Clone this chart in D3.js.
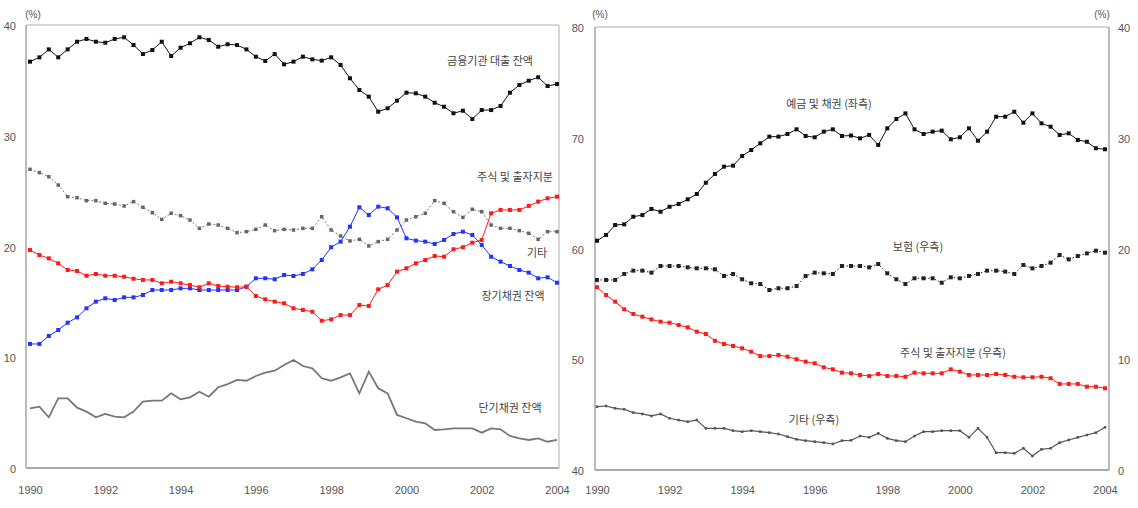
<!DOCTYPE html>
<html><head><meta charset="utf-8">
<script src="https://cdn.jsdelivr.net/npm/d3@7"></script>
<style>
body{margin:0;background:#fff;}
svg{display:block;font-family:"Liberation Sans Narrow","Liberation Sans",Arial,sans-serif;}
.lab{font-family:"Noto Sans CJK KR",sans-serif;font-size:11px;fill:#444;}
.tick{font-size:11px;fill:#555;}
</style></head>
<body>
<svg id="c" width="1138" height="508"></svg>
<script>
// quarterly points 1990Q1 .. 2004Q1 (57 points)
const xTicks = [1990,1992,1994,1996,1998,2000,2002,2004];
const leftTicks = [0,10,20,30,40];
const rightLTicks = [40,50,60,70,80];
const rightRTicks = [0,10,20,30,40];

// Left panel series
const loans = [36.69,37.08,37.8,37.08,37.8,38.49,38.74,38.49,38.4,38.74,38.89,38.19,37.38,37.74,38.49,37.2,37.95,38.35,38.89,38.65,38.04,38.26,38.19,37.8,37.14,36.75,37.38,36.45,36.69,37.14,36.9,36.78,37.08,36.39,35.19,34.13,33.53,32.17,32.48,33.17,33.89,33.83,33.53,32.98,32.62,32.03,32.26,31.51,32.32,32.32,32.69,33.89,34.58,34.97,35.28,34.49,34.67];
const equity = [19.68,19.23,18.93,18.48,17.88,17.79,17.36,17.52,17.36,17.36,17.27,17.09,16.98,16.98,16.68,16.82,16.68,16.52,16.32,16.68,16.43,16.37,16.32,16.37,15.53,15.23,15.02,14.87,14.42,14.27,14.11,13.3,13.42,13.81,13.81,14.72,14.63,16.13,16.52,17.73,18.03,18.48,18.78,19.14,19.08,19.75,19.93,20.34,20.59,23.0,23.3,23.3,23.3,23.66,24.05,24.35,24.5];
const others = [26.97,26.67,26.3,25.55,24.5,24.41,24.14,24.14,23.9,23.84,23.66,24.05,23.54,23.05,22.45,23.0,22.78,22.39,21.64,22.03,21.94,21.64,21.25,21.34,21.55,21.94,21.43,21.55,21.49,21.64,21.64,22.69,21.49,20.95,20.5,20.65,20.05,20.44,20.65,21.49,22.39,22.69,23.0,24.14,23.9,23.14,22.63,23.36,23.14,21.94,21.64,21.64,21.43,21.19,20.65,21.34,21.34];
const longBonds = [11.2,11.2,11.92,12.46,13.12,13.6,14.42,15.02,15.32,15.17,15.41,15.41,15.62,16.07,16.07,16.07,16.22,16.22,16.07,16.07,16.07,16.07,16.07,16.37,17.13,17.13,17.04,17.43,17.34,17.52,17.94,18.78,19.93,20.44,21.79,23.54,22.84,23.6,23.45,22.63,20.74,20.53,20.44,20.23,20.59,21.13,21.34,21.04,20.14,19.08,18.63,18.24,17.88,17.64,17.13,17.22,16.73];
const shortBonds = [5.39,5.54,4.58,6.29,6.29,5.45,5.09,4.58,4.88,4.64,4.58,5.09,5.99,6.08,6.08,6.74,6.2,6.38,6.89,6.44,7.29,7.58,7.95,7.88,8.31,8.61,8.79,9.3,9.75,9.21,9.0,8.1,7.88,8.19,8.55,6.74,8.7,7.2,6.74,4.79,4.49,4.18,4.03,3.43,3.49,3.58,3.58,3.58,3.19,3.58,3.49,2.89,2.68,2.53,2.68,2.37,2.53];

// Right panel series
const deposits = [60.7,61.22,62.12,62.18,62.87,63.02,63.57,63.32,63.77,64.02,64.44,64.92,65.94,66.73,67.39,67.48,68.35,68.89,69.5,70.1,70.1,70.34,70.76,70.16,70.04,70.55,70.76,70.16,70.2,69.95,70.25,69.35,70.85,71.69,72.2,70.76,70.34,70.55,70.64,69.86,70.04,70.85,69.73,70.55,71.9,71.9,72.35,71.36,72.2,71.3,71.0,70.25,70.4,69.8,69.64,69.05,68.96];
const insurance = [17.16,17.16,17.16,17.7,18.0,18.0,17.82,18.42,18.42,18.42,18.3,18.21,18.21,18.12,17.52,17.7,17.22,16.86,16.79,16.25,16.41,16.41,16.61,17.52,17.82,17.76,17.7,18.42,18.42,18.42,18.3,18.6,17.76,17.22,16.79,17.31,17.31,17.31,16.91,17.4,17.31,17.52,17.7,18.0,18.0,17.91,17.7,18.51,18.21,18.42,18.72,19.41,19.02,19.32,19.56,19.8,19.62];
const equityR = [16.5,15.8,15.2,14.51,14.09,13.84,13.6,13.39,13.3,13.09,12.88,12.49,12.28,11.67,11.38,11.2,10.99,10.68,10.29,10.29,10.38,10.23,10.0,9.78,9.63,9.27,9.09,8.79,8.73,8.58,8.49,8.67,8.49,8.49,8.42,8.79,8.73,8.73,8.73,9.09,8.88,8.58,8.58,8.58,8.67,8.58,8.42,8.37,8.37,8.42,8.28,7.77,7.77,7.77,7.52,7.52,7.38];
const othersR = [5.72,5.78,5.57,5.48,5.18,5.06,4.88,5.06,4.67,4.51,4.36,4.51,3.76,3.76,3.76,3.55,3.46,3.55,3.46,3.37,3.25,3.01,2.77,2.65,2.56,2.47,2.35,2.65,2.68,3.07,2.95,3.31,2.86,2.65,2.56,3.07,3.46,3.46,3.55,3.55,3.55,2.95,3.76,2.95,1.56,1.56,1.5,1.96,1.26,1.87,1.96,2.47,2.71,2.95,3.16,3.37,3.86];

const svg = d3.select("#c");
const axisColor = "#c8c8c8";

function frame(g, x0, x1, y0, y1, rightAxis){
  g.append("line").attr("x1",x0).attr("x2",x1).attr("y1",y0).attr("y2",y0).attr("stroke",axisColor).attr("stroke-width",1.5);
  g.append("line").attr("x1",x0).attr("x2",x1).attr("y1",y1).attr("y2",y1).attr("stroke","#aaa").attr("stroke-width",2);
  g.append("line").attr("x1",x0).attr("x2",x0).attr("y1",y0).attr("y2",y1).attr("stroke","#bbb").attr("stroke-width",2);
  g.append("line").attr("x1",x1).attr("x2",x1).attr("y1",y0).attr("y2",y1).attr("stroke",rightAxis?"#bbb":axisColor).attr("stroke-width",rightAxis?2:1.5);
}

function series(g, x, y, vals, opt){
  const pts = vals.map((v,i)=>[x(1990+i/4), y(v)]);
  const line = d3.line();
  g.append("path").attr("d", line(pts)).attr("fill","none")
    .attr("stroke",opt.color).attr("stroke-width",opt.width||1)
    .attr("stroke-dasharray",opt.dash||null);
  if(opt.marker){
    g.selectAll(null).data(pts).enter().append("rect")
      .attr("x",d=>d[0]-opt.marker/2).attr("y",d=>d[1]-opt.marker/2)
      .attr("width",opt.marker).attr("height",opt.marker)
      .attr("fill",opt.mcolor||opt.color);
  }
}

function label(t, x, y, anchor){
  svg.append("text").attr("class","lab").attr("x",x).attr("y",y).attr("text-anchor",anchor||"middle").text(t);
}

// ---------- Left panel ----------
{
  const g = svg.append("g");
  const x = d3.scaleLinear().domain([1990,2004]).range([30,557]);
  const y = d3.scaleLinear().domain([0,40]).range([468,25]);
  frame(g, 26, 559, 25, 468, false);
  const ya = d3.axisLeft(y).tickValues(leftTicks).tickSize(0).tickPadding(8);
  g.append("g").attr("transform","translate(24,1)").call(ya).call(s=>{s.select(".domain").remove();s.selectAll("text").attr("class","tick").attr("font-size",11).attr("fill","#555");});
  const xa = d3.axisBottom(x).tickValues(xTicks).tickFormat(d3.format("d")).tickSize(0).tickPadding(18);
  g.append("g").attr("transform","translate(0,468)").call(xa).call(s=>{s.select(".domain").remove();s.selectAll("text").attr("class","tick").attr("font-size",11).attr("fill","#555");});
  g.append("text").attr("x",33).attr("y",18).attr("font-size",10).attr("fill","#555").attr("text-anchor","middle").text("(%)");

  series(g,x,y,shortBonds,{color:"#777",width:1.8});
  series(g,x,y,others,{color:"#777",width:1,dash:"2,2",marker:3.5,mcolor:"#666"});
  series(g,x,y,longBonds,{color:"#2233ff",width:1,marker:4});
  series(g,x,y,equity,{color:"#ff1a1a",width:1,marker:4});
  series(g,x,y,loans,{color:"#111",width:1,marker:4});

  label("금융기관 대출 잔액",490,65);
  label("주식 및 출자지분",515,181);
  label("기타",537,257);
  label("장기채권 잔액",513,300);
  label("단기채권 잔액",510,412);
}

// ---------- Right panel ----------
{
  const g = svg.append("g");
  const x = d3.scaleLinear().domain([1990,2004]).range([597,1105]);
  const yl = d3.scaleLinear().domain([40,80]).range([470,27]);
  const yr = d3.scaleLinear().domain([0,40]).range([470,27]);
  frame(g, 595, 1109, 27, 470, true);
  const yla = d3.axisLeft(yl).tickValues(rightLTicks).tickSize(0).tickPadding(8);
  g.append("g").attr("transform","translate(592,1)").call(yla).call(s=>{s.select(".domain").remove();s.selectAll("text").attr("class","tick").attr("font-size",11).attr("fill","#555");});
  const yra = d3.axisRight(yr).tickValues(rightRTicks).tickSize(0).tickPadding(8);
  g.append("g").attr("transform","translate(1110,1)").call(yra).call(s=>{s.select(".domain").remove();s.selectAll("text").attr("class","tick").attr("font-size",11).attr("fill","#555");});
  const xa = d3.axisBottom(x).tickValues(xTicks).tickFormat(d3.format("d")).tickSize(0).tickPadding(16);
  g.append("g").attr("transform","translate(0,470)").call(xa).call(s=>{s.select(".domain").remove();s.selectAll("text").attr("class","tick").attr("font-size",11).attr("fill","#555");});
  g.append("text").attr("x",600).attr("y",18).attr("font-size",10).attr("fill","#555").attr("text-anchor","middle").text("(%)");
  g.append("text").attr("x",1102).attr("y",18).attr("font-size",10).attr("fill","#555").attr("text-anchor","middle").text("(%)");

  series(g,x,yr,othersR,{color:"#555",width:1.2,marker:2.5,mcolor:"#555"});
  series(g,x,yr,equityR,{color:"#ff1a1a",width:1,marker:4});
  series(g,x,yr,insurance,{color:"#222",width:1,dash:"1.5,2",marker:4});
  series(g,x,yl,deposits,{color:"#111",width:1,marker:4});

  label("예금 및 채권 (좌측)",829,108);
  label("보험 (우측)",918,251);
  label("주식 및 출자지분 (우측)",953,357);
  label("기타 (우측)",814,424);
}
</script>
</body></html>
